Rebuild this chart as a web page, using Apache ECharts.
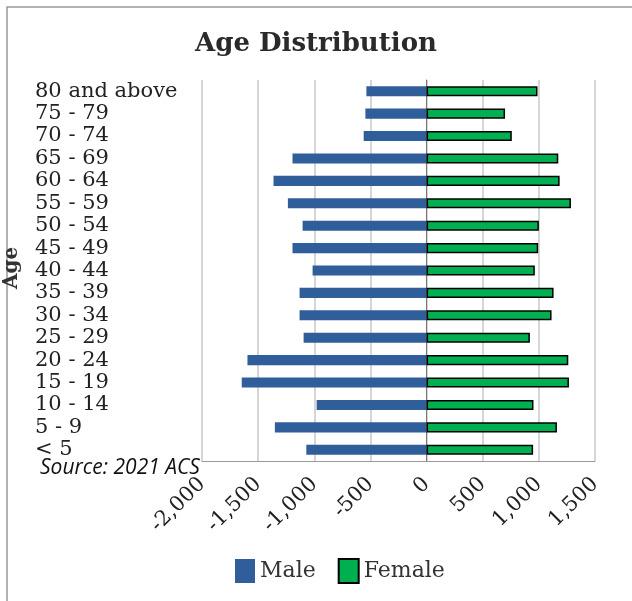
<!DOCTYPE html>
<html>
<head>
<meta charset="utf-8">
<script src="https://cdn.jsdelivr.net/npm/echarts@6/dist/echarts.min.js"></script>
<style>html,body{margin:0;padding:0;background:#fff}#c{width:632px;height:601px}</style>
</head>
<body>
<div id="c"></div>
<script>
const categories = ['< 5','5 - 9','10 - 14','15 - 19','20 - 24','25 - 29','30 - 34','35 - 39','40 - 44','45 - 49','50 - 54','55 - 59','60 - 64','65 - 69','70 - 74','75 - 79','80 and above'];
const male = [-1071,-1351,-979,-1646,-1595,-1095,-1131,-1131,-1015,-1194,-1104,-1235,-1363,-1194,-560,-545,-536];
const female = [949,1161,952,1268,1262,920,1113,1131,964,994,1000,1286,1185,1173,759,699,988];
const xTicks = {min:-2000, max:1500, interval:500};

const serif = '"DejaVu Serif", "Liberation Serif", serif';
const fmt = v => (v < 0 ? '-' : '') + Math.abs(v).toLocaleString('en-US');

const chart = echarts.init(document.getElementById('c'));
chart.setOption({
  animation:false,
  title:{text:'Age Distribution', left:'center', top:26, textStyle:{fontFamily:serif, fontSize:26, fontWeight:'bold', color:'#2a2a2a'}},
  grid:{left:202, right:37, top:80, bottom:140},
  legend:{left:230, top:553, itemWidth:20, itemHeight:24, itemGap:22, icon:'rect', textStyle:{fontFamily:serif, fontSize:22, color:'#333'}, data:['Male','Female']},
  xAxis:{type:'value', min:xTicks.min, max:xTicks.max, interval:xTicks.interval,
    axisLine:{show:true, onZero:false, lineStyle:{color:'#999'}},
    axisTick:{show:false},
    splitLine:{lineStyle:{color:'#c8c8c8', width:1.5}},
    axisLabel:{rotate:45, fontFamily:serif, fontSize:21, color:'#222', margin:20, formatter:fmt}},
  yAxis:{type:'category', data:categories,
    axisLine:{show:true, onZero:true, lineStyle:{color:'#777'}},
    axisTick:{show:false},
    axisLabel:{interval:0, align:'left', margin:167, fontFamily:serif, fontSize:21, color:'#222'}},
  series:[
    {name:'Male', type:'bar', stack:'t', data:male, barWidth:'45%', itemStyle:{color:'#2F5E9A'}},
    {name:'Female', type:'bar', stack:'t', data:female, barWidth:'45%', itemStyle:{color:'#00B050', borderColor:'#000', borderWidth:1.5}}
  ],
  graphic:[
    {type:'rect', shape:{x:7, y:7, width:700, height:700}, style:{fill:'none', stroke:'#999', lineWidth:1.5}, silent:true},
    {type:'text', x:12, y:268, rotation:Math.PI/2, style:{text:'Age', fontFamily:serif, fontSize:20, fontWeight:'bold', fill:'#333', textAlign:'center', textVerticalAlign:'middle'}},
    {type:'text', left:40, top:458, style:{text:'Source: 2021 ACS', fontFamily:'"Liberation Sans Narrow", "Open Sans", sans-serif', fontStyle:'italic', fontSize:21, fill:'#111'}}
  ]
});
</script>
</body>
</html>
